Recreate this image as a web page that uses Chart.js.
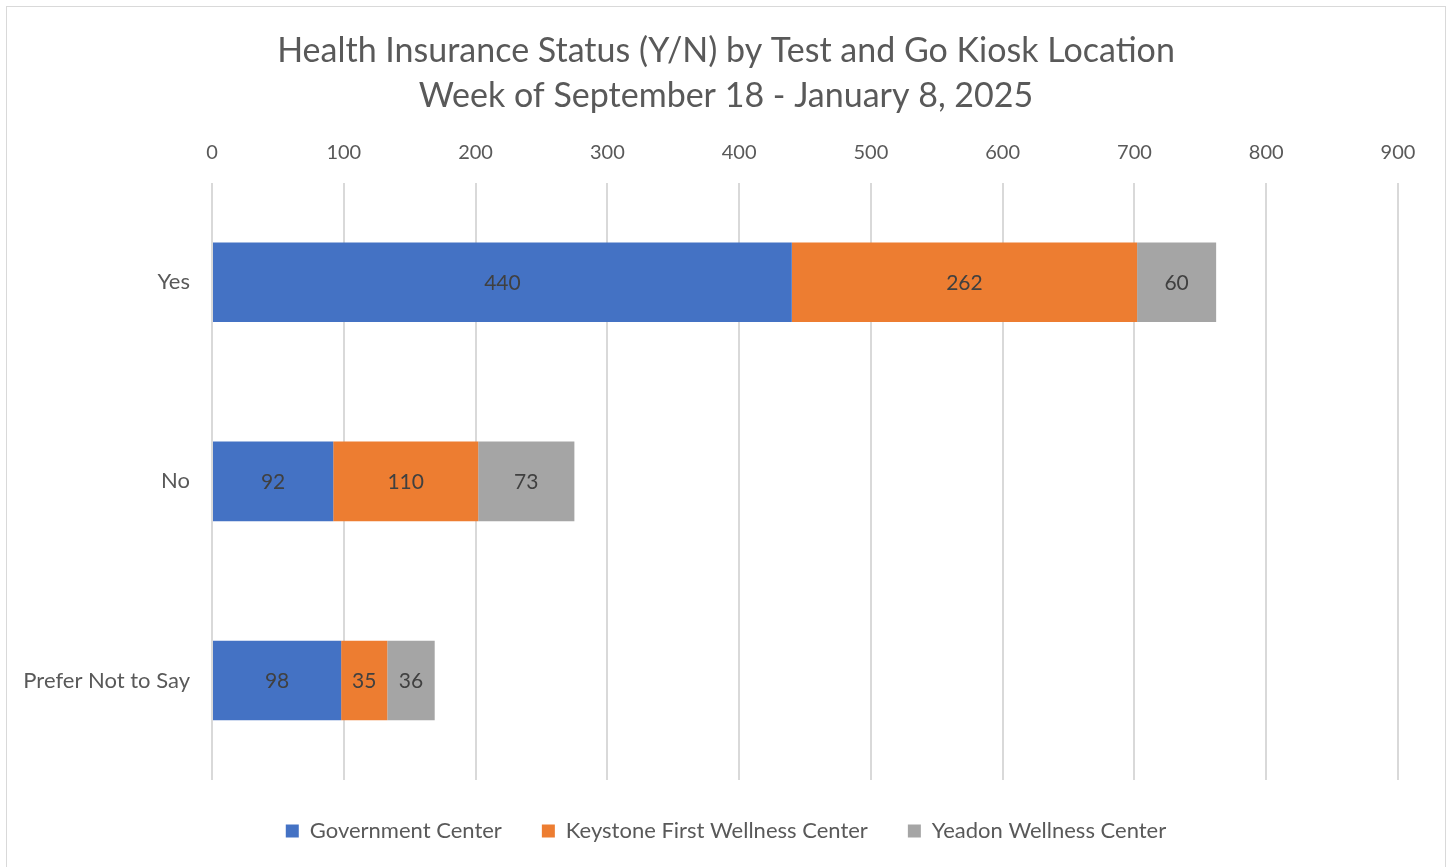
<!DOCTYPE html>
<html>
<head>
<meta charset="utf-8">
<script src="https://cdn.jsdelivr.net/npm/chart.js@4/dist/chart.umd.min.js"></script>
<style>
  html, body { margin: 0; padding: 0; background: #fff; }
  #wrap { position: relative; width: 1452px; height: 867px; overflow: hidden; }
  #frame { position: absolute; left: 6px; top: 6px; width: 1438px; height: 880px; border: 1px solid #d9d9d9; pointer-events: none; }
</style>
</head>
<body>
<div id="wrap">
  <canvas id="myChart" width="1452" height="867"></canvas>
  <div id="frame"></div>
</div>
<script>
const categories = ["Yes", "No", "Prefer Not to Say"];
const governmentCenter = [440, 92, 98];
const keystoneFirst = [262, 110, 35];
const yeadonWellness = [60, 73, 36];
const seriesNames = ["Government Center", "Keystone First Wellness Center", "Yeadon Wellness Center"];
const xTicks = [0, 100, 200, 300, 400, 500, 600, 700, 800, 900];

const colors = {
  blue: "#4472C4",
  orange: "#ED7D31",
  gray: "#A5A5A5",
  text: "#595959",
  label: "#404040",
  grid: "#d9d9d9"
};
const fontFamily = "Lato, 'Noto Sans', sans-serif";

// draw the value in the middle of every bar segment
const barLabels = {
  id: "barLabels",
  afterDatasetsDraw(chart) {
    const ctx = chart.ctx;
    ctx.save();
    ctx.font = "21px " + fontFamily;
    ctx.fillStyle = colors.label;
    ctx.textAlign = "center";
    ctx.textBaseline = "middle";
    chart.data.datasets.forEach((ds, i) => {
      chart.getDatasetMeta(i).data.forEach((bar, j) => {
        const p = bar.getProps(["x", "y", "base"], true);
        ctx.fillText(String(ds.data[j]), (p.x + p.base) / 2, p.y + 1);
      });
    });
    ctx.restore();
  }
};

// center title and legend on the whole frame rather than on the left part
const centerBoxes = {
  id: "centerBoxes",
  afterLayout(chart) {
    if (chart.legend) chart.legend.left = 54;
    if (chart.titleBlock) chart.titleBlock.left = 54;
  }
};

const ctx = document.getElementById("myChart").getContext("2d");
new Chart(ctx, {
  type: "bar",
  data: {
    labels: categories,
    datasets: [
      { label: seriesNames[0], data: governmentCenter, backgroundColor: colors.blue },
      { label: seriesNames[1], data: keystoneFirst, backgroundColor: colors.orange },
      { label: seriesNames[2], data: yeadonWellness, backgroundColor: colors.gray }
    ]
  },
  options: {
    indexAxis: "y",
    responsive: false,
    animation: false,
    layout: { padding: { left: 0, right: 54, top: 29, bottom: 15 } },
    datasets: { bar: { barPercentage: 0.8, categoryPercentage: 0.5, borderWidth: 0 } },
    scales: {
      x: {
        position: "top",
        stacked: true,
        min: 0,
        max: 900,
        afterBuildTicks: (scale) => { scale.ticks = xTicks.map(v => ({ value: v })); },
        afterFit: (scale) => { scale.height = 64; },
        grid: { color: colors.grid, lineWidth: 2, drawTicks: false },
        border: { display: false },
        ticks: { color: colors.text, font: { family: fontFamily, size: 20 }, padding: 18 }
      },
      y: {
        stacked: true,
        afterFit: (scale) => { scale.width = 212; },
        grid: { display: false },
        border: { display: false },
        ticks: { color: colors.text, font: { family: fontFamily, size: 22 }, padding: 14 }
      }
    },
    plugins: {
      title: {
        display: true,
        text: ["Health Insurance Status (Y/N) by Test and Go Kiosk Location", "Week of September 18 - January 8, 2025"],
        color: colors.text,
        font: { family: fontFamily, size: 34, weight: "normal", lineHeight: 1.32 },
        padding: { top: 0, bottom: 0 }
      },
      legend: {
        position: "bottom",
        labels: {
          color: colors.text,
          font: { family: fontFamily, size: 22 },
          boxWidth: 13,
          boxHeight: 13,
          padding: 40
        }
      },
      tooltip: { enabled: false }
    }
  },
  plugins: [barLabels, centerBoxes]
});
</script>
</body>
</html>
